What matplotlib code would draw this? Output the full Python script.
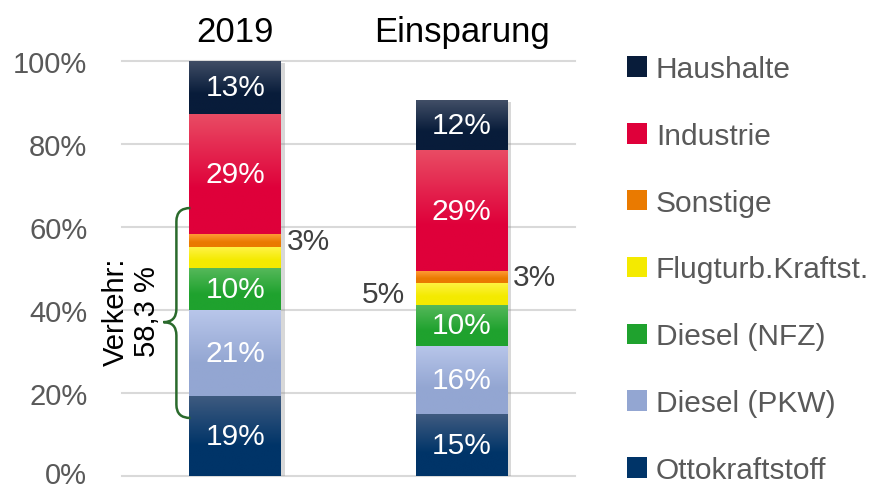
import matplotlib.pyplot as plt
import matplotlib.colors as mcolors
import matplotlib.patheffects as pe
import matplotlib.transforms as mtransforms
from matplotlib.path import Path
from matplotlib.patches import PathPatch
import numpy as np

# data (share of total, %)
categories = ['2019', 'Einsparung']
series_names = ['Ottokraftstoff', 'Diesel (PKW)', 'Diesel (NFZ)', 'Flugturb.Kraftst.',
                'Sonstige', 'Industrie', 'Haushalte']
otto = [19.3, 14.9]
diesel_pkw = [20.7, 16.4]
diesel_nfz = [10.1, 9.8]
flug = [5.0, 5.4]
sonstige = [3.1, 2.8]
industrie = [29.0, 29.2]
haushalte = [12.8, 12.0]
verkehr_label = 'Verkehr:\n58,3 %'

# colours: (top of gradient, base)
colors = [('#3f5b80', '#003468'),
          ('#b8c6ea', '#93a6d2'),
          ('#55b85a', '#1fa22e'),
          ('#fff345', '#f4ea00'),
          ('#ff9a35', '#ea7a00'),
          ('#e94c64', '#df003a'),
          ('#414e66', '#081c3a')]

plt.rcParams['font.family'] = ['Liberation Sans', 'DejaVu Sans']

fig = plt.figure(figsize=(8.73, 4.89), dpi=100)
ax = fig.add_axes([0.1398, 0.0252, 0.5188, 0.8486])

x = np.arange(len(categories))
width = 0.405
values = [otto, diesel_pkw, diesel_nfz, flug, sonstige, industrie, haushalte]
bottom = np.zeros(len(categories))
containers = []
shadow = [pe.SimplePatchShadow(offset=(2.5, -1.5), shadow_rgbFace='#909090', alpha=0.35), pe.Normal()]
for name, vals, (ctop, cbase) in zip(series_names, values, colors):
    bc = ax.bar(x, vals, width, bottom=bottom, color=cbase, label=name, zorder=2)
    for patch in bc:
        patch.set_path_effects(shadow)
        x0, y0 = patch.get_x(), patch.get_y()
        w, h = patch.get_width(), patch.get_height()
        t = np.linspace(0, 1, 64)[:, None]
        c1 = np.array(mcolors.to_rgb(ctop))
        c2 = np.array(mcolors.to_rgb(cbase))
        t = np.clip(t * 1.6, 0, 1)
        grad = (1 - t) * c1 + t * c2
        grad = grad[:, None, :]
        ax.imshow(grad, extent=[x0, x0 + w, y0, y0 + h], aspect='auto',
                  origin='upper', zorder=3, interpolation='bilinear')
    containers.append(bc)
    bottom = bottom + np.array(vals)

# value labels inside the bars
inside = {0: [0, 1, 2, 5, 6], 1: [0, 1, 2, 5, 6]}
for col, idxs in inside.items():
    for i in idxs:
        p = containers[i][col]
        ax.text(p.get_x() + p.get_width() / 2, p.get_y() + p.get_height() / 2,
                f'{values[i][col]:.0f}%', ha='center', va='center',
                color='white', fontsize=21.5, zorder=5)

# small labels outside the bars
def side_label(col, i, side):
    p = containers[i][col]
    yc = p.get_y() + p.get_height() / 2
    if side == 'right':
        ax.annotate(f'{values[i][col]:.0f}%', (p.get_x() + p.get_width(), yc),
                    xytext=(4, 0), textcoords='offset points', ha='left', va='center',
                    color='#404040', fontsize=21.5)
    else:
        ax.annotate(f'{values[i][col]:.0f}%', (p.get_x(), yc),
                    xytext=(-8, 0), textcoords='offset points', ha='right', va='center',
                    color='#404040', fontsize=21.5)

side_label(0, 4, 'right')
side_label(1, 4, 'right')
side_label(1, 3, 'left')

# brace for Verkehr
xe, xm, xt = -0.198, -0.260, -0.317
yt, yb, ytip = 64.5, 13.9, 37.0
r = 3.2
verts = [(xe, yt), (xm, yt), (xm, yt - r), (xm, yt - r),
         (xm, ytip + r), (xm, ytip), (xt, ytip),
         (xm, ytip), (xm, ytip - r), (xm, ytip - r),
         (xm, yb + r), (xm, yb), (xe, yb)]
codes = [Path.MOVETO, Path.CURVE3, Path.CURVE3, Path.LINETO,
         Path.LINETO, Path.CURVE3, Path.CURVE3,
         Path.CURVE3, Path.CURVE3, Path.LINETO,
         Path.LINETO, Path.CURVE3, Path.CURVE3]
ax.add_patch(PathPatch(Path(verts, codes), facecolor='none', edgecolor='#2a6a2c',
                       linewidth=1.8, zorder=4, clip_on=False))
ax.text(-0.460, 39.7, verkehr_label, rotation=90, ha='center', va='center',
        fontsize=21, color='black', linespacing=1.15, multialignment='center')

ax.set_xlim(-0.5, 1.5)
ax.set_ylim(0, 100)
ax.set_yticks(range(0, 101, 20))
ax.set_yticklabels([f'{v}%' for v in range(0, 101, 20)])
ax.set_xticks(x)
ax.set_xticklabels(categories)
ax.xaxis.set_ticks_position('top')
ax.tick_params(axis='x', length=0, labelsize=25, pad=9, labelcolor='black')
ax.tick_params(axis='y', length=0, labelsize=21, pad=25, labelcolor='#595959')
for s in ax.spines.values():
    s.set_visible(False)
ax.yaxis.grid(True, color='#d9d9d9', linewidth=1.5, zorder=0)
ax.set_axisbelow(True)
for gl in ax.get_ygridlines():
    gl.set_clip_on(False)
# keep the "0%" label inside the picture
zero_lbl = ax.get_yticklabels()[0]
zero_lbl.set_transform(zero_lbl.get_transform() +
                       mtransforms.ScaledTranslation(0, 3 / 72, fig.dpi_scale_trans))

handles = [c.patches[0] for c in containers][::-1]
labels = series_names[::-1]
leg = fig.legend(handles, labels, loc='upper left', bbox_to_anchor=(627 / 873, 1 - 56 / 489),
                 frameon=False, fontsize=21.5, handlelength=0.67, handleheight=0.67,
                 handletextpad=0.3, labelspacing=1.30, borderpad=0, borderaxespad=0,
                 labelcolor='#595959')
for h in leg.legend_handles:
    h.set_path_effects([])

fig.savefig('out.png', dpi=100)
